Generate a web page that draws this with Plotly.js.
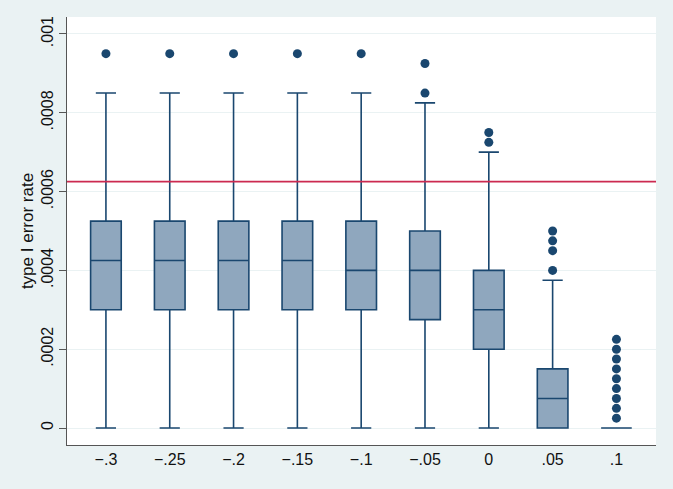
<!DOCTYPE html>
<html>
<head>
<meta charset="utf-8">
<script src="https://cdn.plot.ly/plotly-3.0.1.min.js"></script>
<style>
  html, body { margin: 0; padding: 0; background: #eaf2f3; }
  #chart { width: 673px; height: 489px; }
</style>
</head>
<body>
<div id="chart"></div>
<script>
// Shift values and their box-plot summaries of the type I error rate
const categories = ["\u2212.3", "\u2212.25", "\u2212.2", "\u2212.15", "\u2212.1", "\u2212.05", "0", ".05", ".1"];
const lowerWhisker = [0, 0, 0, 0, 0, 0, 0, 0, 0];
const q1Values     = [0.0003, 0.0003, 0.0003, 0.0003, 0.0003, 0.000275, 0.0002, 0, 0];
const medianValues = [0.000425, 0.000425, 0.000425, 0.000425, 0.0004, 0.0004, 0.0003, 0.000075, 0];
const q3Values     = [0.000525, 0.000525, 0.000525, 0.000525, 0.000525, 0.0005, 0.0004, 0.00015, 0];
const upperWhisker = [0.00085, 0.00085, 0.00085, 0.00085, 0.00085, 0.000825, 0.0007, 0.000375, 0];

// Outside values, listed per category
const outlierCategory = [
  "\u2212.3", "\u2212.25", "\u2212.2", "\u2212.15", "\u2212.1",
  "\u2212.05", "\u2212.05",
  "0", "0",
  ".05", ".05", ".05", ".05",
  ".1", ".1", ".1", ".1", ".1", ".1", ".1", ".1", ".1"
];
const outlierValues = [
  0.00095, 0.00095, 0.00095, 0.00095, 0.00095,
  0.00085, 0.000925,
  0.000725, 0.00075,
  0.0004, 0.00045, 0.000475, 0.0005,
  0.000025, 0.00005, 0.000075, 0.0001, 0.000125, 0.00015, 0.000175, 0.0002, 0.000225
];

// Nominal level reference line
const nominalRate = 0.000625;

const yTickValues = [0, 0.0002, 0.0004, 0.0006, 0.0008, 0.001];
const yTickLabels = ["0", ".0002", ".0004", ".0006", ".0008", ".001"];

const navy = "#1a476f";

const boxTrace = {
  type: "box",
  x: categories,
  q1: q1Values,
  median: medianValues,
  q3: q3Values,
  lowerfence: lowerWhisker,
  upperfence: upperWhisker,
  boxpoints: false,
  width: 0.48,
  whiskerwidth: 0.66,
  fillcolor: "#8fa7be",
  line: { color: navy, width: 1.6 },
  hoverinfo: "skip",
  showlegend: false
};

const outlierTrace = {
  type: "scatter",
  mode: "markers",
  x: outlierCategory,
  y: outlierValues,
  marker: { color: navy, size: 9 },
  hoverinfo: "skip",
  showlegend: false
};

const layout = {
  width: 673,
  height: 489,
  paper_bgcolor: "#eaf2f3",
  plot_bgcolor: "#ffffff",
  margin: { l: 67, r: 17, t: 17, b: 44 },
  font: { family: "Liberation Sans, Arial, sans-serif", size: 16, color: "#111" },
  showlegend: false,
  xaxis: {
    type: "category",
    categoryorder: "array",
    categoryarray: categories,
    range: [-0.61, 8.62],
    showgrid: false,
    zeroline: false,
    showline: true,
    linecolor: "#555",
    linewidth: 1,
    ticks: "",
    tickfont: { size: 16 },
    fixedrange: true
  },
  yaxis: {
    range: [-0.0000431, 0.001043],
    tickvals: yTickValues,
    ticktext: yTickLabels,
    tickangle: -90,
    ticks: "outside",
    ticklen: 7,
    tickcolor: "#555",
    tickfont: { size: 16 },
    showgrid: true,
    gridcolor: "#eaf2f3",
    gridwidth: 1,
    zeroline: false,
    showline: true,
    linecolor: "#555",
    linewidth: 1,
    title: { text: "type I error rate", font: { size: 17 }, standoff: 0 },
    fixedrange: true
  },
  shapes: [{
    type: "line",
    xref: "paper",
    x0: 0,
    x1: 1,
    yref: "y",
    y0: nominalRate,
    y1: nominalRate,
    line: { color: "#cc2a50", width: 1.8 },
    layer: "above"
  }]
};

Plotly.newPlot("chart", [boxTrace, outlierTrace], layout, { staticPlot: true, displayModeBar: false });
</script>
</body>
</html>
